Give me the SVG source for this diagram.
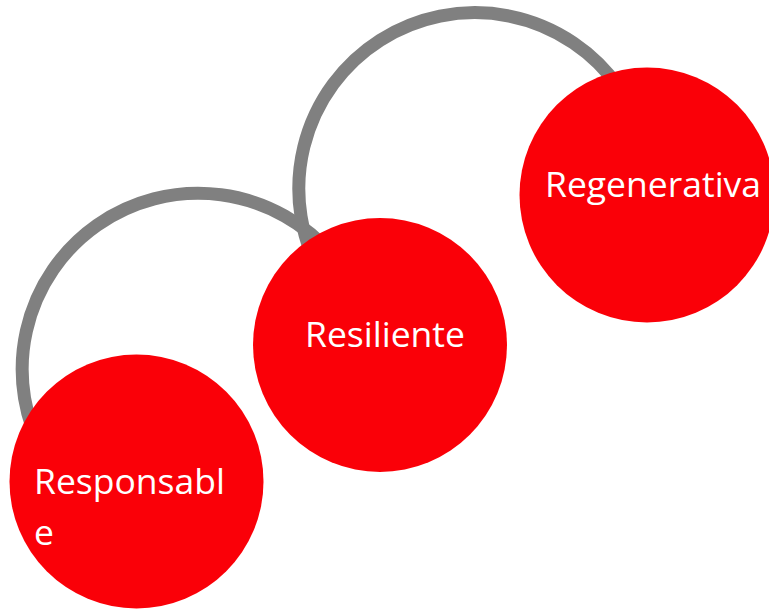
<svg xmlns="http://www.w3.org/2000/svg" width="769" height="611" viewBox="0 0 769 611">
<style>
.arc{fill:none;stroke:#808080;stroke-width:13}
.node{fill:#FA0008}
.lbl{fill:#FFFFFF;font-family:"Open Sans","Noto Sans",sans-serif;font-size:35.5px}
</style>
<rect width="769" height="611" fill="#FFFFFF"/>
<g id="connectors">
<path class="arc" d="M45.6,457 A176,176 0 0 1 332.8,255.9"/>
<path class="arc" d="M322.6,277 A176,176 0 0 1 619.2,88"/>
</g>
<g id="node-responsable">
<circle class="node" cx="136.5" cy="481.5" r="127"/>
<text class="lbl" x="34" y="494">Responsabl</text>
<text class="lbl" x="34" y="545">e</text>
</g>
<g id="node-resiliente">
<circle class="node" cx="380" cy="345" r="127"/>
<text class="lbl" x="305" y="347">Resiliente</text>
</g>
<g id="node-regenerativa">
<circle class="node" cx="647" cy="195" r="127.5"/>
<text class="lbl" x="545" y="197">Regenerativa</text>
</g>
</svg>
